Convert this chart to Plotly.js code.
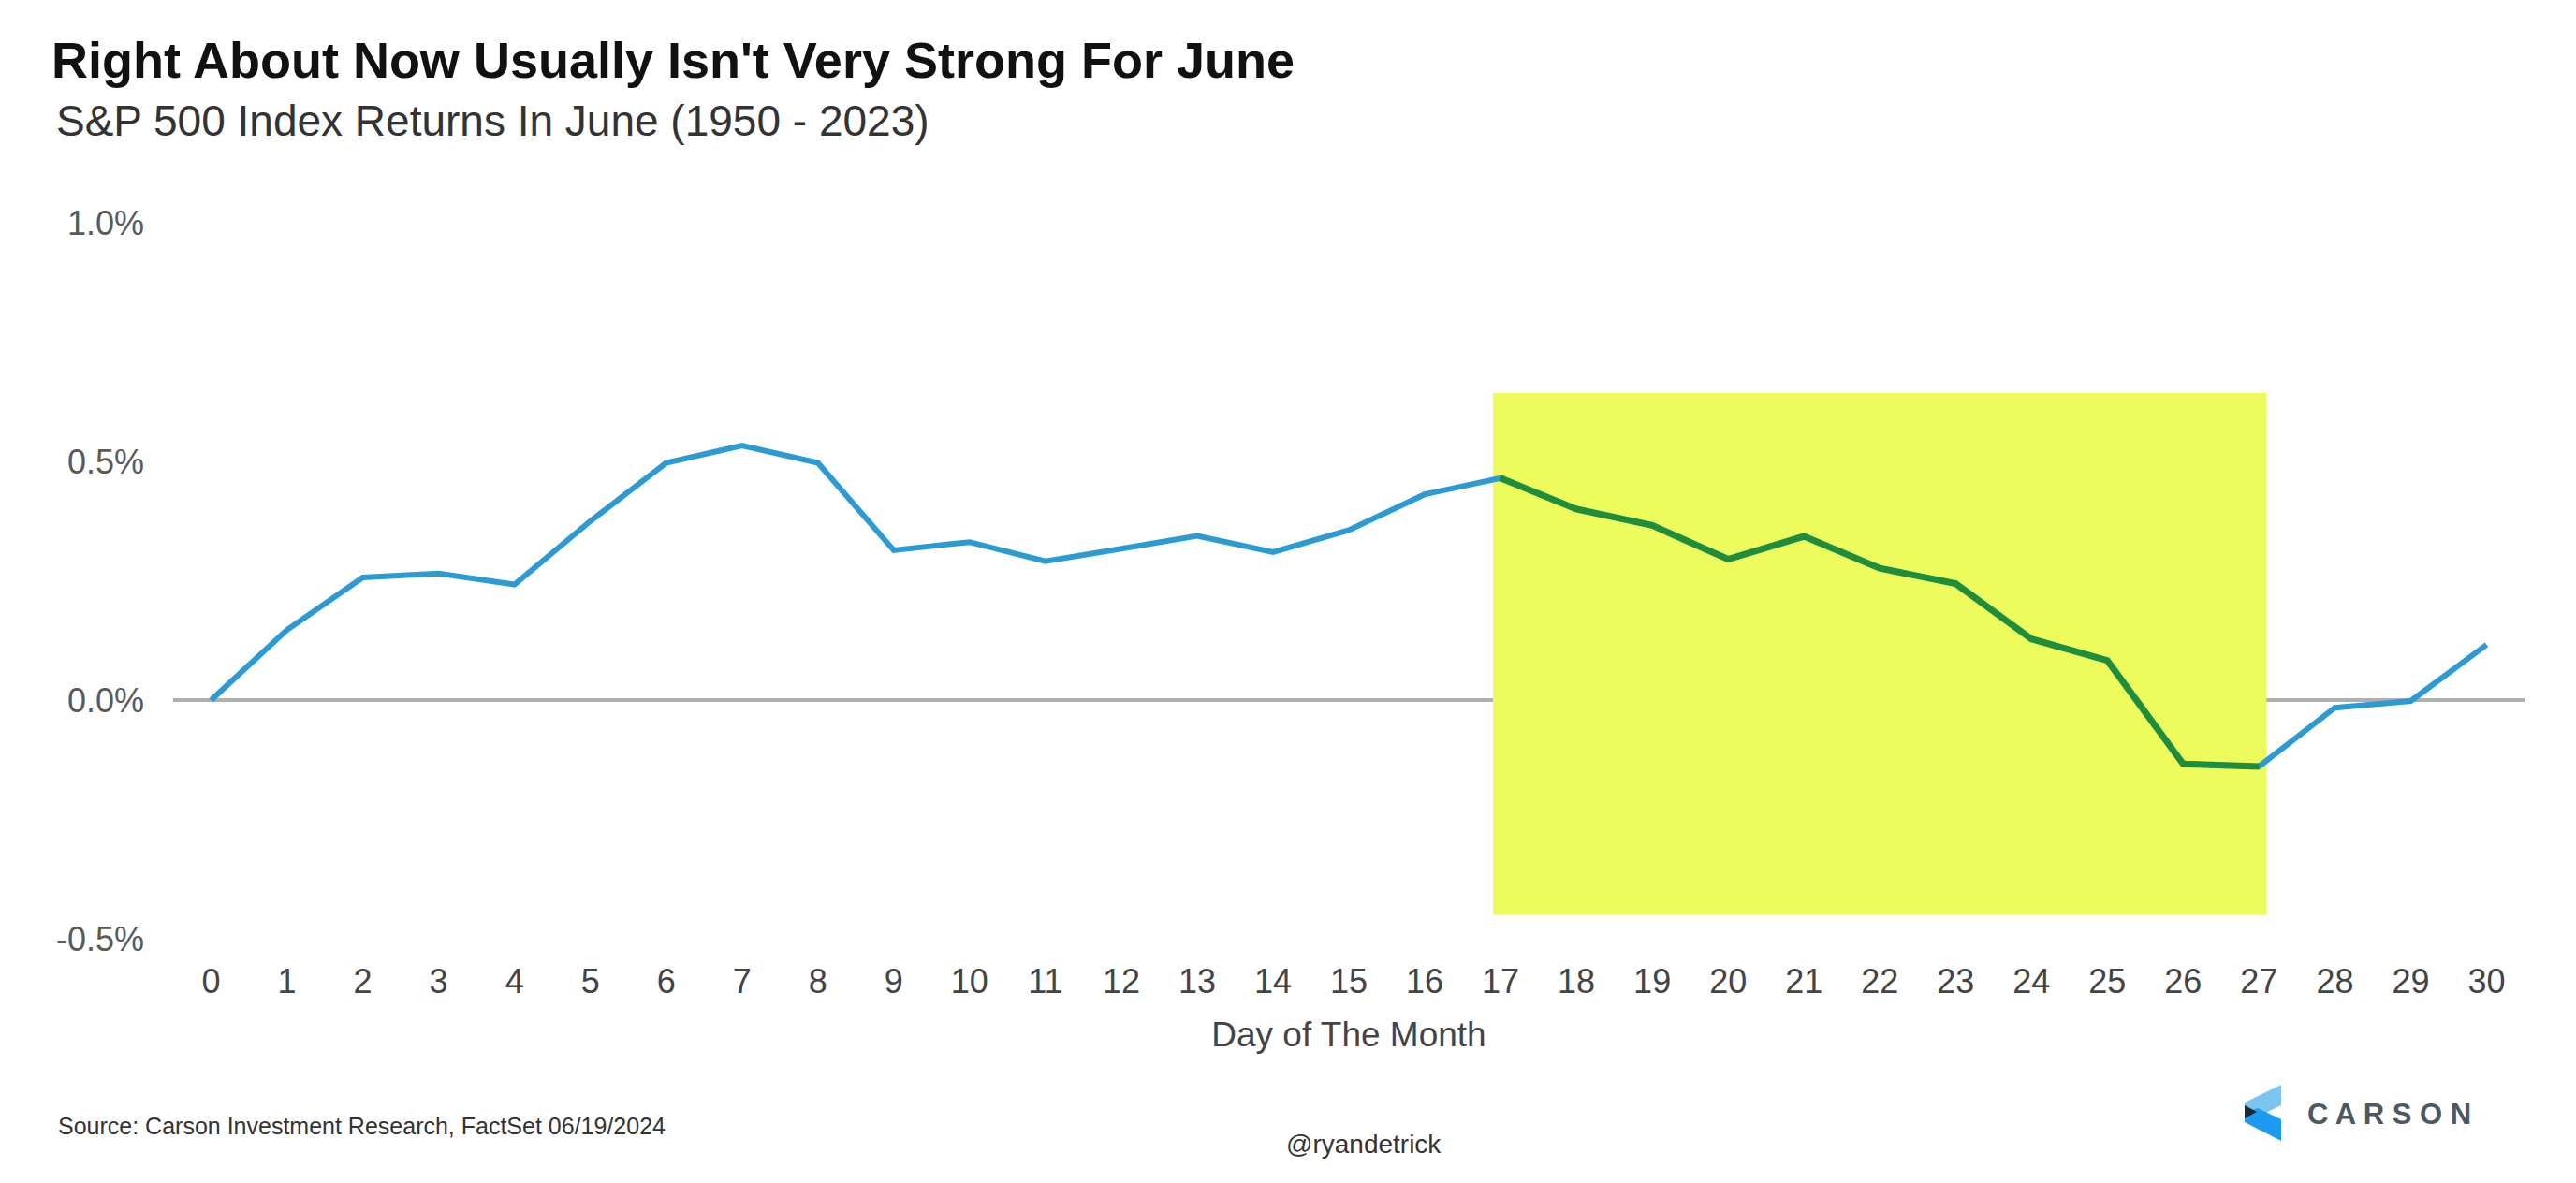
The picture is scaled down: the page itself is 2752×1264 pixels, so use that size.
<!DOCTYPE html>
<html>
<head>
<meta charset="utf-8">
<script src="https://cdn.plot.ly/plotly-3.0.1.min.js"></script>
<style>
  html, body { margin: 0; padding: 0; background: #ffffff; }
  #chart { width: 2752px; height: 1264px; }
</style>
</head>
<body>
<div id="chart"></div>
<script>
// ---- data ----
const days = [0, 1, 2, 3, 4, 5, 6, 7, 8, 9, 10, 11, 12, 13, 14, 15, 16, 17, 18, 19, 20, 21, 22, 23, 24, 25, 26, 27, 28, 29, 30];
const avgReturn = [0, 0.147, 0.257, 0.265, 0.242, 0.375, 0.497, 0.533, 0.497, 0.314, 0.331, 0.291, 0.317, 0.344, 0.310, 0.356, 0.431, 0.465, 0.400, 0.366, 0.295, 0.343, 0.276, 0.244, 0.128, 0.083, -0.134, -0.139, -0.016, -0.002, 0.116];
const yTickVals = [-0.5, 0, 0.5, 1.0];
const yTickText = ["-0.5%", "0.0%", "0.5%", "1.0%"];
const xTickText = ["0","1","2","3","4","5","6","7","8","9","10","11","12","13","14","15","16","17","18","19","20","21","22","23","24","25","26","27","28","29","30"];
const highlightFirstDay = 17;
const highlightLastDay = 27;

const titleText = "Right About Now Usually Isn't Very Strong For June";
const subtitleText = "S&P 500 Index Returns In June (1950 - 2023)";
const xTitleText = "Day of The Month";
const sourceText = "Source: Carson Investment Research, FactSet 06/19/2024";
const handleText = "@ryandetrick";
const logoText = "C A R S O N";

// ---- geometry helpers (page pixels -> paper) ----
const W = 2752, H = 1264;
const M = { l: 185, r: 55, t: 238, b: 261 };
const PW = W - M.l - M.r, PH = H - M.t - M.b;
const px = x => (x - M.l) / PW;
const py = y => (H - M.b - y) / PH;
function pathPx(pts) {
  return 'M ' + pts.map(p => px(p[0]).toFixed(5) + ' ' + py(p[1]).toFixed(5)).join(' L ') + ' Z';
}

const hiIdx0 = days.indexOf(highlightFirstDay);
const hiIdx1 = days.indexOf(highlightLastDay);

const traces = [
  {
    x: days, y: avgReturn, type: 'scatter', mode: 'lines',
    line: { color: '#2d9bd3', width: 6 },
    hoverinfo: 'skip', showlegend: false
  },
  {
    x: days.slice(hiIdx0, hiIdx1 + 1), y: avgReturn.slice(hiIdx0, hiIdx1 + 1),
    type: 'scatter', mode: 'lines',
    line: { color: '#1f8d3e', width: 7 },
    hoverinfo: 'skip', showlegend: false
  }
];

const FONT = 'Liberation Sans, Arial, sans-serif';

const layout = {
  width: W, height: H,
  margin: M,
  paper_bgcolor: '#ffffff', plot_bgcolor: '#ffffff',
  showlegend: false,
  font: { family: FONT, color: '#444444' },
  title: {
    text: '<b>' + titleText + '</b>',
    font: { family: FONT, size: 54, color: '#111111' },
    xref: 'container', yref: 'container',
    x: 55 / W, xanchor: 'left',
    y: 1 - 64 / H, yanchor: 'middle'
  },
  xaxis: {
    range: [-0.5, 30.5],
    tickvals: days, ticktext: xTickText,
    showgrid: false, zeroline: false, showline: false, ticks: '',
    tickfont: { family: FONT, size: 36, color: '#444444' },
    ticklabelstandoff: 21,
    title: { text: xTitleText, font: { family: FONT, size: 37, color: '#444444' }, standoff: 24 },
    fixedrange: true
  },
  yaxis: {
    range: [-0.5, 1.0],
    tickvals: yTickVals, ticktext: yTickText,
    showgrid: false, zeroline: false, showline: false, ticks: '',
    tickfont: { family: FONT, size: 36, color: '#5a5a5a' },
    ticklabelstandoff: 30,
    fixedrange: true
  },
  shapes: [
    {
      type: 'rect', xref: 'x', yref: 'y', layer: 'below',
      x0: highlightFirstDay - 0.1, x1: highlightLastDay + 0.1, y0: -0.45, y1: 0.643,
      fillcolor: '#eefb5c', line: { width: 0 }
    },
    {
      type: 'line', xref: 'paper', yref: 'y', layer: 'below',
      x0: 0, x1: 1, y0: 0, y1: 0,
      line: { color: 'rgba(95,95,95,0.5)', width: 4 }
    },
    // Carson logo mark
    { type: 'path', xref: 'paper', yref: 'paper', layer: 'above',
      path: pathPx([[2437,1159],[2437,1181],[2412,1193],[2398,1187],[2398,1178]]),
      fillcolor: '#7cc5ef', line: { width: 0 } },
    { type: 'path', xref: 'paper', yref: 'paper', layer: 'above',
      path: pathPx([[2398,1189],[2412,1184],[2437,1196],[2437,1219],[2398,1199]]),
      fillcolor: '#1c9bf0', line: { width: 0 } },
    { type: 'path', xref: 'paper', yref: 'paper', layer: 'above',
      path: pathPx([[2398,1181],[2411,1188],[2398,1195]]),
      fillcolor: '#1e2a33', line: { width: 0 } }
  ],
  annotations: [
    {
      text: subtitleText, xref: 'paper', yref: 'paper',
      x: px(58), y: py(129), xanchor: 'left', yanchor: 'middle',
      showarrow: false, font: { family: FONT, size: 46, color: '#333333' }
    },
    {
      text: sourceText, xref: 'paper', yref: 'paper',
      x: px(60), y: py(1203), xanchor: 'left', yanchor: 'middle',
      showarrow: false, font: { family: FONT, size: 25, color: '#333333' }
    },
    {
      text: handleText, xref: 'paper', yref: 'paper',
      x: px(1457), y: py(1222), xanchor: 'center', yanchor: 'middle',
      showarrow: false, font: { family: FONT, size: 28, color: '#333333' }
    },
    {
      text: '<b>' + logoText + '</b>', xref: 'paper', yref: 'paper',
      x: px(2463), y: py(1190), xanchor: 'left', yanchor: 'middle',
      showarrow: false, font: { family: FONT, size: 31, color: '#4c5965' }
    }
  ]
};

Plotly.newPlot('chart', traces, layout, { displayModeBar: false, staticPlot: true });
</script>
</body>
</html>
